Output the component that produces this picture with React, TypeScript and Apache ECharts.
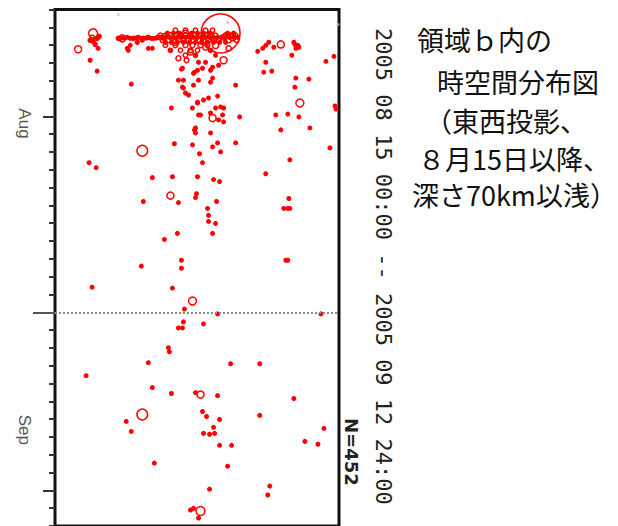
import React, { useEffect, useRef } from 'react';
import * as echarts from 'echarts';

// [east-west distance (km, west edge = 0), days since 2005-08-15 00:00, magnitude]
const shallowEvents: [number, number, number][] = [
  // western cluster
  [23, 2.23, 2.2], [38, 1.34, 2.6], [37, 1.56, 1.4], [42, 1.62, 1.3], [38, 1.79, 1.3],
  [44, 1.51, 1.2], [40, 1.96, 1.2], [35, 1.73, 1.2], [43, 2.18, 1], [35, 2.85, 1],
  [42, 3.46, 1], [76, 4.19, 1], [67, 1.62, 2.2],
  [63, 1.62, 1.2], [72, 1.56, 1], [78, 1.62, 1.2], [83, 1.56, 1], [88, 1.62, 1.3],
  [93, 1.56, 1.2], [98, 1.62, 1], [103, 1.56, 1.3], [108, 1.62, 1.2],
  [66, 1.62, 1], [69, 1.60, 1], [75, 1.62, 1], [81, 1.60, 1], [86, 1.62, 1],
  [91, 1.60, 1], [96, 1.62, 1], [101, 1.60, 1],
  [72, 2.18, 1], [75, 2.01, 1], [73, 2.29, 1], [82, 1.84, 1.2], [87, 1.73, 1],
  [93, 2.18, 1], [97, 2.18, 1],
  // main cluster, first two days
  [105, 1.45, 1.5], [110, 1.45, 1.4], [115, 1.45, 1.6], [120, 1.45, 1.5], [125, 1.45, 1.7],
  [130, 1.45, 1.5], [135, 1.45, 1.6], [140, 1.45, 1.8], [145, 1.45, 1.5], [150, 1.45, 1.6],
  [155, 1.45, 1.7], [160, 1.45, 1.5], [170, 1.45, 1.6], [175, 1.45, 1.5], [180, 1.45, 1.4],
  [107, 1.73, 1.4], [113, 1.73, 1.5], [118, 1.73, 1.6], [123, 1.73, 1.5], [128, 1.73, 1.7],
  [133, 1.73, 1.6], [138, 1.73, 1.5], [143, 1.73, 1.6], [148, 1.73, 1.7], [153, 1.73, 1.5],
  [158, 1.73, 1.6], [163, 1.73, 1.5], [173, 1.73, 1.6], [181, 1.73, 1.4],
  [106, 1.56, 1.1], [110, 1.56, 1.1], [114, 1.56, 1.1], [118, 1.56, 1.1], [122, 1.56, 1.1],
  [126, 1.56, 1.1], [130, 1.56, 1.1], [134, 1.56, 1.1], [138, 1.56, 1.1], [142, 1.56, 1.1],
  [146, 1.56, 1.1], [150, 1.56, 1.1], [154, 1.56, 1.1], [158, 1.56, 1.1], [162, 1.56, 1.1],
  [166, 1.56, 1.1], [170, 1.56, 1.1], [174, 1.56, 1.1], [178, 1.56, 1.1], [182, 1.56, 1.1],
  [110, 1.84, 1.1], [116, 1.84, 1.1], [122, 1.84, 1.1], [128, 1.84, 1.1], [134, 1.84, 1.1],
  [140, 1.84, 1.1], [146, 1.84, 1.1], [152, 1.84, 1.1], [158, 1.84, 1.1], [164, 1.84, 1.1],
  [170, 1.84, 1.1],
  [112, 1.34, 1.2], [118, 1.34, 1.2], [124, 1.34, 1.2], [136, 1.34, 1.2], [142, 1.34, 1.2],
  [148, 1.34, 1.2], [154, 1.34, 1.2], [172, 1.34, 1.2], [178, 1.34, 1.2],
  [120, 1.17, 1.4], [130, 1.17, 1.5], [140, 1.17, 1.4], [150, 1.17, 1.5], [157, 1.17, 1.4],
  [110, 2.01, 1.4], [120, 2.01, 1.5], [130, 2.01, 1.6], [137, 2.01, 1.5], [145, 2.01, 1.6],
  [152, 2.01, 1.5], [160, 2.01, 2.0],
  [115, 2.29, 1.3], [125, 2.29, 1.4], [135, 2.29, 1.5], [142, 2.29, 1.4], [155, 2.29, 1.3],
  [130, 2.57, 1.4], [140, 2.57, 1.3],
  [130, 1.34, 2.0], [145, 1.73, 2.0], [120, 1.84, 1.9], [150, 2.12, 1.8], [135, 2.40, 1.8],
  [173, 2.18, 1.7], [123, 2.74, 1.6], [131, 2.85, 1.5],
  [165, 1.34, 5.1], [177, 1.56, 2.2], [168, 1.56, 1.8], [168, 2.85, 2.2],
  [160, 2.57, 1], [143, 2.96, 1], [150, 2.96, 1], [157, 3.24, 1], [163, 3.13, 1],
  [147, 3.30, 1], [155, 3.41, 1], [157, 3.85, 1], [155, 4.08, 1], [180, 4.25, 1],
  [127, 3.30, 1], [128, 3.97, 1], [123, 3.97, 1], [138, 3.58, 1], [138, 4.25, 1],
  [127, 4.36, 1], [130, 4.69, 1], [133, 4.80, 1], [143, 3.97, 1], [142, 3.41, 1],
  [126, 3.35, 1], [128, 4.41, 1], [139, 3.52, 1],
  [162, 4.86, 1], [153, 4.97, 1], [148, 5.08, 1], [142, 5.20, 1],
  [165, 5.47, 1], [160, 5.53, 1], [168, 5.53, 1], [155, 5.81, 1], [157, 6.09, 2.2],
  [167, 5.92, 1], [163, 6.20, 1], [145, 5.92, 1], [168, 6.31, 1], [184, 6.03, 1],
  [116, 5.53, 1], [137, 5.53, 1], [142, 5.25, 1], [143, 5.92, 1], [140, 6.65, 1],
  [139, 6.76, 1], [140, 6.93, 1], [155, 6.93, 1],
  [137, 7.60, 1], [119, 7.54, 1], [180, 7.49, 1], [165, 7.99, 1], [162, 7.49, 1],
  [157, 7.71, 1], [144, 8.10, 1], [147, 8.60, 1],
  [87, 7.93, 2.9], [34, 8.60, 1], [41, 8.88, 1],
  [97, 9.44, 1], [117, 9.39, 1], [142, 9.39, 1], [158, 9.55, 1], [164, 9.66, 1],
  [115, 10.45, 2.2], [88, 10.78, 1], [123, 10.84, 1], [141, 10.34, 1], [140, 10.56, 1],
  [161, 10.78, 1], [152, 11.17, 1], [153, 11.56, 1], [153, 11.90, 1], [160, 12.01, 1],
  [157, 12.57, 1], [122, 12.57, 1], [109, 12.91, 1],
  [86, 14.41, 1], [126, 14.08, 1], [126, 14.53, 1], [37, 15.59, 1], [117, 15.64, 1],
  [137, 16.37, 2.4], [129, 16.82, 1], [162, 17.09, 1], [148, 17.65, 1],
  [128, 17.54, 1], [127, 17.88, 1], [123, 17.88, 1],
  // eastern part
  [202, 2.35, 1], [210, 2.01, 1], [213, 1.84, 1], [218, 2.12, 1], [207, 2.18, 1],
  [225, 1.96, 2.2], [238, 1.84, 1], [242, 2.01, 1], [240, 2.18, 1], [243, 2.12, 1],
  [239, 1.96, 1], [210, 2.96, 1], [208, 3.52, 1], [216, 3.46, 1], [236, 2.57, 1],
  [240, 3.85, 1], [253, 3.91, 1], [239, 4.36, 1], [270, 2.91, 1], [278, 2.63, 1],
  [244, 5.25, 2.4], [220, 5.92, 1], [232, 5.87, 1], [243, 6.03, 1],
  [279, 5.42, 1], [280, 5.59, 1], [225, 6.76, 1], [254, 6.65, 1], [274, 7.77, 1],
  [234, 8.44, 1], [210, 9.22, 1], [233, 10.61, 1], [228, 11.17, 1], [232, 11.17, 1],
  [234, 11.17, 1], [230, 14.08, 1], [232, 14.08, 1], [265, 17.09, 1],
  // September
  [113, 18.99, 1], [114, 19.22, 1], [93, 19.83, 1], [31, 20.56, 1], [97, 21.23, 1],
  [116, 21.56, 1], [140, 21.51, 1], [145, 21.62, 2.2], [87, 22.74, 2.9], [71, 23.13, 1],
  [76, 23.69, 1], [99, 25.47, 1],
  [175, 19.89, 1], [204, 19.89, 1], [162, 21.68, 1], [238, 21.84, 1],
  [147, 22.57, 1], [151, 22.85, 1], [164, 23.02, 1], [204, 22.79, 1], [158, 23.46, 1],
  [268, 23.52, 1], [148, 23.80, 1], [154, 23.85, 1], [159, 23.80, 1],
  [249, 24.25, 1], [262, 24.41, 1], [164, 24.47, 1], [176, 24.47, 1], [172, 25.64, 1],
  [154, 26.93, 1], [214, 26.76, 1], [212, 27.26, 1],
  [135, 28.10, 1], [138, 28.01, 1], [145, 28.16, 2.6], [143, 28.55, 1],
];

// events drawn in light purple
const otherEvents: [number, number][] = [
  [63, 0.28], [172, 0.73], [282, 0.84],
];

const totalDays = 29; // 2005-08-15 00:00 .. 2005-09-12 24:00
const monthLabels = ['Aug', 'Sep'];
const monthLabelDays = [6.4, 23.6];
const tenDayTicks = [6, 27];
const monthStartTicks = [17];
const periodText = '2005 08 15 00:00 -- 2005 09 12 24:00';
const countText = 'N=452';
const titleLines = ['領域ｂ内の', '時空間分布図', '（東西投影、', '８月15日以降、', '深さ70km以浅）'];

const magToSize = (m: number) => 3.5 * Math.pow(1.8, m - 1);

export default function App() {
  const ref = useRef<HTMLDivElement>(null);
  useEffect(() => {
    if (!ref.current) return;
    const chart = echarts.init(ref.current, null, { renderer: 'svg', width: 618, height: 526 });
    const baseY: any = {
      type: 'value',
      inverse: true,
      min: 0,
      max: totalDays,
      position: 'left',
      axisLine: { show: false },
      splitLine: { show: false },
      axisLabel: { show: false },
    };
    const titleX = [417, 437, 425, 418, 412];
    const titleY = [39, 81, 120, 158, 194];
    chart.setOption({
      animation: false,
      backgroundColor: '#ffffff',
      grid: {
        left: 55, top: 9.5, width: 284, height: 519,
        show: true, borderColor: '#111', borderWidth: 3, backgroundColor: 'transparent',
      },
      xAxis: {
        type: 'value', min: 0, max: 283, show: false,
      },
      yAxis: [
        { ...baseY, interval: 1, axisTick: { show: true, length: 6, lineStyle: { color: '#333', width: 2 } } },
        { ...baseY, axisTick: { show: true, customValues: tenDayTicks, length: 12, lineStyle: { color: '#333', width: 2 } } },
        { ...baseY, axisTick: { show: true, customValues: monthStartTicks, length: 22, lineStyle: { color: '#555', width: 2 } } },
      ],
      series: [
        {
          type: 'scatter',
          yAxisIndex: 0,
          data: shallowEvents,
          symbol: 'circle',
          symbolSize: (v: number[]) => magToSize(v[2]),
          itemStyle: {
            color: (p: any) => (p.value[2] < 1.35 ? '#ff0000' : 'rgba(0,0,0,0)'),
            borderColor: '#ff0000', borderWidth: 1.5, opacity: 1,
          },
          silent: true,
          markLine: {
            silent: true,
            symbol: 'none',
            label: { show: false },
            lineStyle: { color: '#888', width: 2, type: [2, 2] },
            data: [{ yAxis: monthStartTicks[0] }],
          },
        },
        {
          type: 'scatter',
          yAxisIndex: 0,
          data: otherEvents,
          symbolSize: 3,
          itemStyle: { color: '#d8a8e8' },
          silent: true,
        },
      ],
    });
    // month labels, placed through the time axis scale
    const monthGraphics = monthLabels.map((label, i) => {
      const y = chart.convertToPixel({ yAxisIndex: 0 }, monthLabelDays[i]) as number;
      return {
        type: 'text', x: 24, y, rotation: -Math.PI / 2,
        style: {
          text: label, fill: '#555', fontSize: 17,
          fontFamily: 'Liberation Sans, Arial, sans-serif', textAlign: 'center', textVerticalAlign: 'middle',
        },
      };
    });
    chart.setOption({
      graphic: [
        ...monthGraphics,
        {
          type: 'text', x: 383, y: 28, rotation: -Math.PI / 2,
          style: {
            text: periodText, fill: '#222', fontSize: 22,
            fontFamily: 'DejaVu Sans Mono, monospace', textAlign: 'left', textVerticalAlign: 'middle',
          },
        },
        {
          type: 'text', x: 351, y: 418, rotation: -Math.PI / 2,
          style: {
            text: countText, fill: '#222', fontSize: 18, fontWeight: 'bold',
            fontFamily: 'DejaVu Sans, sans-serif', textAlign: 'left', textVerticalAlign: 'middle',
          },
        },
        ...titleLines.map((t, i) => ({
          type: 'text', x: titleX[i], y: titleY[i],
          style: {
            text: t, fill: '#111', fontSize: 27,
            fontFamily: 'Noto Sans CJK JP, sans-serif', textAlign: 'left', textVerticalAlign: 'middle',
          },
        })),
      ],
    });
    return () => chart.dispose();
  }, []);
  return <div ref={ref} style={{ position: 'fixed', left: 0, top: 0, width: 618, height: 526 }} />;
}
